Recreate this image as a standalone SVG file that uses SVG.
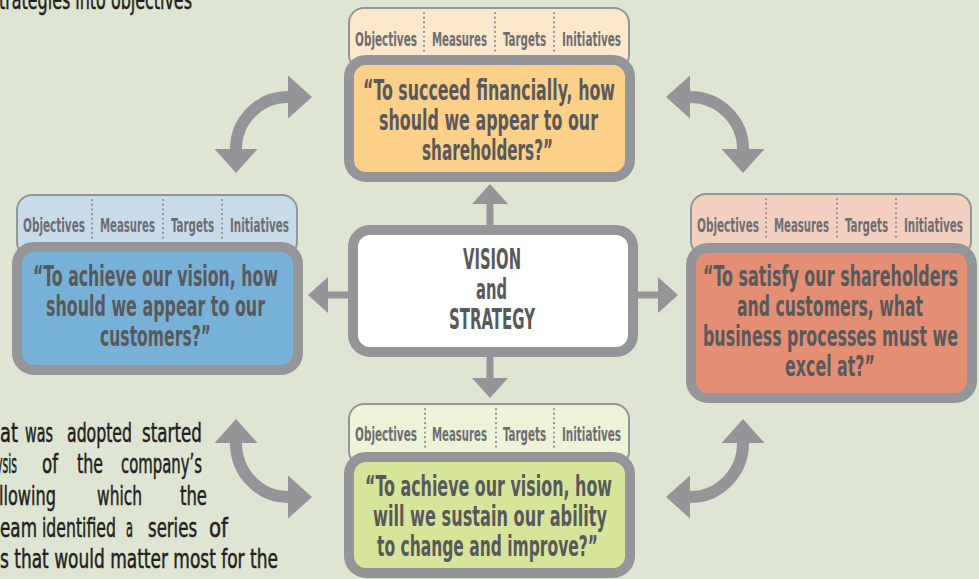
<svg xmlns="http://www.w3.org/2000/svg" width="979" height="579" viewBox="0 0 979 579">
<style>
.bg{fill:#dfe5d3}
.tab{stroke:#939598;stroke-width:2}
.box{stroke:#939598;stroke-width:10}
.sep{stroke:#939598;stroke-width:2.2;stroke-dasharray:0.1 4.6;stroke-linecap:round;fill:none}
.hd{font-family:'DejaVu Sans Condensed','DejaVu Sans',sans-serif;font-stretch:condensed;font-weight:bold;font-size:20px;fill:#6d6e71}
.bd{font-family:'DejaVu Sans Condensed','DejaVu Sans',sans-serif;font-stretch:condensed;font-weight:bold;font-size:28px;fill:#58595b}
.pt{font-family:'DejaVu Sans Condensed','DejaVu Sans',sans-serif;font-stretch:condensed;font-size:26px;fill:#231f20;stroke:#231f20;stroke-width:0.5}
.sa{stroke:#939598;stroke-width:7;fill:none}
.ca{stroke:#939598;stroke-width:12;fill:none}
</style>
<defs>
<marker id="hs" markerUnits="userSpaceOnUse" markerWidth="20" markerHeight="36" refX="0" refY="18" orient="auto"><path d="M0,0 L20,18 L0,36 Z" fill="#939598"/></marker>
<marker id="hc" markerUnits="userSpaceOnUse" markerWidth="24" markerHeight="43" refX="0" refY="21.5" orient="auto-start-reverse"><path d="M0,0 L24,21.5 L0,43 Z" fill="#939598"/></marker>
</defs>
<rect class="bg" x="0" y="0" width="979" height="579"/>

<g id="text-fragments">
<text class="pt" transform="translate(-1,9) scale(0.72,1)" textLength="268" lengthAdjust="spacingAndGlyphs">trategies into objectives</text>
<text class="pt" transform="translate(0,442) scale(0.72,1)" textLength="25" lengthAdjust="spacingAndGlyphs">at</text>
<text class="pt" transform="translate(25,442) scale(0.72,1)" textLength="38.9" lengthAdjust="spacingAndGlyphs">was</text>
<text class="pt" transform="translate(67,442) scale(0.72,1)" textLength="90.3" lengthAdjust="spacingAndGlyphs">adopted</text>
<text class="pt" transform="translate(142,442) scale(0.72,1)" textLength="83.3" lengthAdjust="spacingAndGlyphs">started</text>
<text class="pt" transform="translate(-4,473) scale(0.72,1)" textLength="29.2" lengthAdjust="spacingAndGlyphs">ysis</text>
<text class="pt" transform="translate(42,473) scale(0.72,1)" textLength="22.2" lengthAdjust="spacingAndGlyphs">of</text>
<text class="pt" transform="translate(77,473) scale(0.72,1)" textLength="36.1" lengthAdjust="spacingAndGlyphs">the</text>
<text class="pt" transform="translate(121,473) scale(0.72,1)" textLength="112.5" lengthAdjust="spacingAndGlyphs">company’s</text>
<text class="pt" transform="translate(-1,505) scale(0.72,1)" textLength="79" lengthAdjust="spacingAndGlyphs">llowing</text>
<text class="pt" transform="translate(97,505) scale(0.72,1)" textLength="62.5" lengthAdjust="spacingAndGlyphs">which</text>
<text class="pt" transform="translate(180,505) scale(0.72,1)" textLength="37.5" lengthAdjust="spacingAndGlyphs">the</text>
<text class="pt" transform="translate(0,537) scale(0.72,1)" textLength="51.4" lengthAdjust="spacingAndGlyphs">eam</text>
<text class="pt" transform="translate(42,537) scale(0.72,1)" textLength="102.8" lengthAdjust="spacingAndGlyphs">identified</text>
<text class="pt" transform="translate(126,537) scale(0.72,1)" textLength="9.7" lengthAdjust="spacingAndGlyphs">a</text>
<text class="pt" transform="translate(148,537) scale(0.72,1)" textLength="68.1" lengthAdjust="spacingAndGlyphs">series</text>
<text class="pt" transform="translate(209,537) scale(0.72,1)" textLength="26.4" lengthAdjust="spacingAndGlyphs">of</text>
<text class="pt" transform="translate(0,568) scale(0.72,1)" textLength="386" lengthAdjust="spacingAndGlyphs">s that would matter most for the</text>
</g>

<g id="connectors">
<path class="sa" d="M490,225 L490,204" marker-end="url(#hs)"/>
<path class="sa" d="M490,357 L490,378" marker-end="url(#hs)"/>
<path class="sa" d="M348,295 L328,295" marker-end="url(#hs)"/>
<path class="sa" d="M638,295 L658,295" marker-end="url(#hs)"/>
<path class="ca" d="M288,97 A52,52 0 0 0 236,149" marker-start="url(#hc)" marker-end="url(#hc)"/>
<path class="ca" d="M690,97 A53,52 0 0 1 743,149" marker-start="url(#hc)" marker-end="url(#hc)"/>
<path class="ca" d="M743,443 A53,54 0 0 1 690,497" marker-start="url(#hc)" marker-end="url(#hc)"/>
<path class="ca" d="M236,443 A52,54 0 0 0 288,497" marker-start="url(#hc)" marker-end="url(#hc)"/>
</g>

<g id="node-financial">
<rect class="tab" x="349" y="8" width="280" height="62" rx="15" fill="#fde8cc"/>
<line class="sep" x1="424" y1="13" x2="424" y2="53"/>
<line class="sep" x1="495" y1="13" x2="495" y2="53"/>
<line class="sep" x1="554" y1="13" x2="554" y2="53"/>
<text class="hd" transform="translate(355,46) scale(0.6,1)" textLength="103.3" lengthAdjust="spacingAndGlyphs">Objectives</text>
<text class="hd" transform="translate(432,46) scale(0.6,1)" textLength="91.7" lengthAdjust="spacingAndGlyphs">Measures</text>
<text class="hd" transform="translate(503,46) scale(0.6,1)" textLength="71.7" lengthAdjust="spacingAndGlyphs">Targets</text>
<text class="hd" transform="translate(562,46) scale(0.6,1)" textLength="98.3" lengthAdjust="spacingAndGlyphs">Initiatives</text>
<rect class="box" x="349" y="60" width="281" height="117" rx="17" fill="#fdd089"/>
<text class="bd" transform="translate(363,100) scale(0.6,1)" textLength="420" lengthAdjust="spacingAndGlyphs">“To succeed financially, how</text>
<text class="bd" transform="translate(379,130) scale(0.6,1)" textLength="365" lengthAdjust="spacingAndGlyphs">should we appear to our</text>
<text class="bd" transform="translate(422,160) scale(0.6,1)" textLength="218.3" lengthAdjust="spacingAndGlyphs">shareholders?”</text>
</g>

<g id="node-customer">
<rect class="tab" x="17" y="195" width="280" height="62" rx="15" fill="#c8dbeb"/>
<line class="sep" x1="92" y1="200" x2="92" y2="240"/>
<line class="sep" x1="163" y1="200" x2="163" y2="240"/>
<line class="sep" x1="222" y1="200" x2="222" y2="240"/>
<text class="hd" transform="translate(23,232) scale(0.6,1)" textLength="103.3" lengthAdjust="spacingAndGlyphs">Objectives</text>
<text class="hd" transform="translate(100,232) scale(0.6,1)" textLength="91.7" lengthAdjust="spacingAndGlyphs">Measures</text>
<text class="hd" transform="translate(171,232) scale(0.6,1)" textLength="71.7" lengthAdjust="spacingAndGlyphs">Targets</text>
<text class="hd" transform="translate(230,232) scale(0.6,1)" textLength="98.3" lengthAdjust="spacingAndGlyphs">Initiatives</text>
<rect class="box" x="17" y="247" width="281" height="123" rx="17" fill="#78b1d8"/>
<text class="bd" transform="translate(33,286) scale(0.6,1)" textLength="408.3" lengthAdjust="spacingAndGlyphs">“To achieve our vision, how</text>
<text class="bd" transform="translate(46,316) scale(0.6,1)" textLength="365" lengthAdjust="spacingAndGlyphs">should we appear to our</text>
<text class="bd" transform="translate(100,346) scale(0.6,1)" textLength="185" lengthAdjust="spacingAndGlyphs">customers?”</text>
</g>

<g id="node-process">
<rect class="tab" x="691" y="194" width="280" height="62" rx="15" fill="#f3cfbf"/>
<line class="sep" x1="766" y1="199" x2="766" y2="239"/>
<line class="sep" x1="837" y1="199" x2="837" y2="239"/>
<line class="sep" x1="896" y1="199" x2="896" y2="239"/>
<text class="hd" transform="translate(697,232) scale(0.6,1)" textLength="103.3" lengthAdjust="spacingAndGlyphs">Objectives</text>
<text class="hd" transform="translate(774,232) scale(0.6,1)" textLength="91.7" lengthAdjust="spacingAndGlyphs">Measures</text>
<text class="hd" transform="translate(845,232) scale(0.6,1)" textLength="71.7" lengthAdjust="spacingAndGlyphs">Targets</text>
<text class="hd" transform="translate(904,232) scale(0.6,1)" textLength="98.3" lengthAdjust="spacingAndGlyphs">Initiatives</text>
<rect class="box" x="691" y="248" width="281" height="150" rx="17" fill="#e48e73"/>
<text class="bd" transform="translate(703,286) scale(0.6,1)" textLength="425" lengthAdjust="spacingAndGlyphs">“To satisfy our shareholders</text>
<text class="bd" transform="translate(737,316) scale(0.6,1)" textLength="310" lengthAdjust="spacingAndGlyphs">and customers, what</text>
<text class="bd" transform="translate(703,346) scale(0.6,1)" textLength="425" lengthAdjust="spacingAndGlyphs">business processes must we</text>
<text class="bd" transform="translate(785,376) scale(0.6,1)" textLength="150" lengthAdjust="spacingAndGlyphs">excel at?”</text>
</g>

<g id="node-learning">
<rect class="tab" x="349" y="404" width="280" height="62" rx="15" fill="#eef3d8"/>
<line class="sep" x1="425" y1="409" x2="425" y2="449"/>
<line class="sep" x1="496" y1="409" x2="496" y2="449"/>
<line class="sep" x1="554" y1="409" x2="554" y2="449"/>
<text class="hd" transform="translate(355,441) scale(0.6,1)" textLength="103.3" lengthAdjust="spacingAndGlyphs">Objectives</text>
<text class="hd" transform="translate(432,441) scale(0.6,1)" textLength="91.7" lengthAdjust="spacingAndGlyphs">Measures</text>
<text class="hd" transform="translate(503,441) scale(0.6,1)" textLength="71.7" lengthAdjust="spacingAndGlyphs">Targets</text>
<text class="hd" transform="translate(562,441) scale(0.6,1)" textLength="98.3" lengthAdjust="spacingAndGlyphs">Initiatives</text>
<rect class="box" x="349" y="457" width="281" height="116" rx="17" fill="#d7e59b"/>
<text class="bd" transform="translate(365,496) scale(0.6,1)" textLength="411.7" lengthAdjust="spacingAndGlyphs">“To achieve our vision, how</text>
<text class="bd" transform="translate(373,526) scale(0.6,1)" textLength="390" lengthAdjust="spacingAndGlyphs">will we sustain our ability</text>
<text class="bd" transform="translate(377,556) scale(0.6,1)" textLength="368.3" lengthAdjust="spacingAndGlyphs">to change and improve?”</text>
</g>

<g id="node-vision">
<rect class="box" x="353" y="230" width="280" height="122" rx="17" fill="#ffffff"/>
<text class="bd" transform="translate(463,269) scale(0.6,1)" textLength="96.7" lengthAdjust="spacingAndGlyphs">VISION</text>
<text class="bd" transform="translate(476,299) scale(0.6,1)" textLength="51.7" lengthAdjust="spacingAndGlyphs">and</text>
<text class="bd" transform="translate(449,329) scale(0.6,1)" textLength="143.3" lengthAdjust="spacingAndGlyphs">STRATEGY</text>
</g>
</svg>
